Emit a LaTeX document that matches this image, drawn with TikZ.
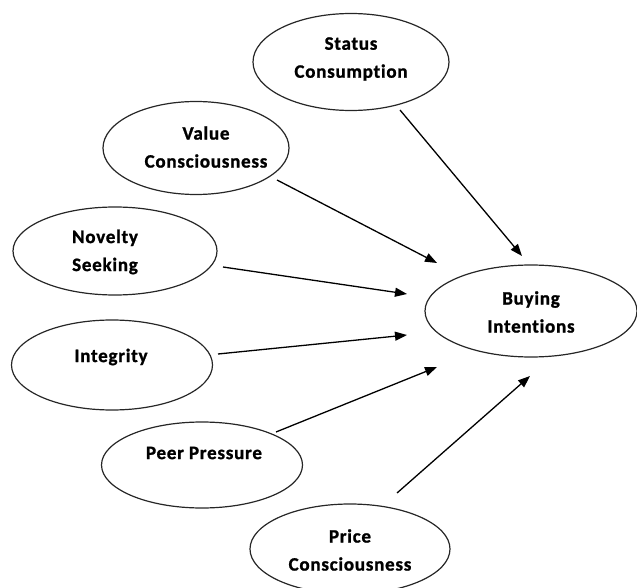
\documentclass[tikz,border=0pt]{standalone}
\usepackage{fontspec}
\setmainfont{Carlito}[LetterSpace=4,Ligatures={NoCommon,NoRare},BoldFeatures={FakeBold=1.2}]
\usetikzlibrary{shapes.geometric,arrows.meta}
\begin{document}
\begin{tikzpicture}[x=1pt,y=-1pt,
  oval/.style={ellipse,draw=black!85,line width=1.2pt,inner sep=0pt},
  lbl/.style={align=center,font=\fontsize{19}{28}\selectfont\bfseries,inner sep=0pt},
  link/.style={line width=1.3pt,-{Triangle[length=12pt,width=9pt]}}]
\useasboundingbox (0,0) rectangle (637,588);
% ellipses
\node[oval,minimum width=196pt,minimum height=97pt] (status) at (351,62) {};
\node[oval,minimum width=186pt,minimum height=93pt] (value) at (196,148) {};
\node[oval,minimum width=204pt,minimum height=88pt] (novelty) at (115,251) {};
\node[oval,minimum width=201pt,minimum height=90pt] (integ) at (112,365) {};
\node[oval,minimum width=201pt,minimum height=86pt] (peer) at (202,465) {};
\node[oval,minimum width=200pt,minimum height=90pt] (price) at (350,549) {};
\node[oval,minimum width=212pt,minimum height=92pt] (buy) at (531,311) {};
% labels
\node[lbl] (status-t) at (351,59) {Status\\Consumption};
\node[lbl] (value-t) at (206,147) {Value\\Consciousness};
\node[lbl] (novelty-t) at (105,252) {Novelty\\Seeking};
\node[lbl] (integ-t) at (111,357) {Integrity};
\node[lbl] (peer-t) at (204,453) {Peer Pressure};
\node[lbl] (price-t) at (350,550) {Price\\Consciousness};
\node[lbl] (buy-t) at (531,312) {Buying\\Intentions};
% arrow end points
\coordinate (s1) at (400,110); \coordinate (s2) at (522,256);
\coordinate (v1) at (277,180); \coordinate (v2) at (437,263);
\coordinate (n1) at (223,267); \coordinate (n2) at (407,294);
\coordinate (i1) at (218,354); \coordinate (i2) at (407,335);
\coordinate (p1) at (276,432); \coordinate (p2) at (437,367);
\coordinate (c1) at (397,493); \coordinate (c2) at (530,376);
\draw[link] (s1) -- (s2);
\draw[link] (v1) -- (v2);
\draw[link] (n1) -- (n2);
\draw[link] (i1) -- (i2);
\draw[link] (p1) -- (p2);
\draw[link] (c1) -- (c2);
\end{tikzpicture}
\end{document}
